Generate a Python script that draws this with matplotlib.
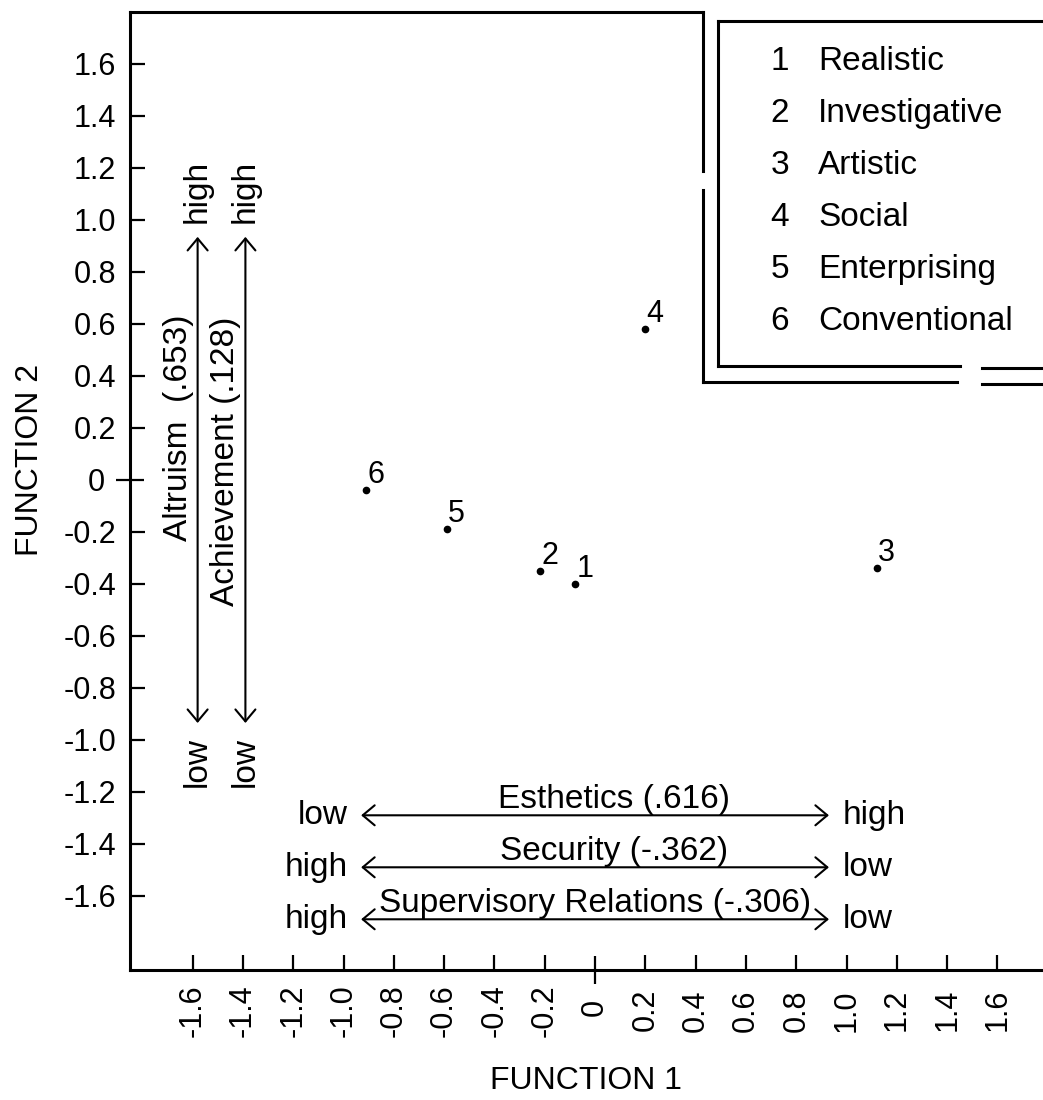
import matplotlib
matplotlib.use('Agg')
import matplotlib.pyplot as plt

plt.rcParams['font.family'] = ['Liberation Sans', 'DejaVu Sans']

# group centroids on the two discriminant functions
groups = ['Realistic', 'Investigative', 'Artistic', 'Social', 'Enterprising', 'Conventional']
function1 = [-0.08, -0.22, 1.12, 0.20, -0.59, -0.91]
function2 = [-0.40, -0.35, -0.34, 0.58, -0.19, -0.04]

tick_values = [-1.6, -1.4, -1.2, -1.0, -0.8, -0.6, -0.4, -0.2, 0,
               0.2, 0.4, 0.6, 0.8, 1.0, 1.2, 1.4, 1.6]
tick_labels = ['-1.6', '-1.4', '-1.2', '-1.0', '-0.8', '-0.6', '-0.4', '-0.2', '0',
               '0.2', '0.4', '0.6', '0.8', '1.0', '1.2', '1.4', '1.6']

# value scales drawn as arrows
vert_scales = ['Altruism  (.653)', 'Achievement (.128)']
vert_x = [-1.58, -1.39]
vert_text_y = [0.20, 0.07]
horiz_scales = ['Esthetics (.616)', 'Security (-.362)', 'Supervisory Relations (-.306)']
horiz_y = [-1.29, -1.49, -1.69]
horiz_left = ['low', 'high', 'high']
horiz_right = ['high', 'low', 'low']
horiz_text_x = [0.075, 0.075, 0.0]

fig = plt.figure(figsize=(10.43, 11), dpi=100)
ax = fig.add_axes([0.1246, 0.1182, 0.8754, 0.8709])
ax.set_xlim(-1.849, 1.781)
ax.set_ylim(-1.885, 1.80)

for s in ['right']:
    ax.spines[s].set_visible(False)
for s in ['left', 'bottom', 'top']:
    ax.spines[s].set_linewidth(2.2)
ax.spines['top'].set_bounds(-1.849, 0.43)

# major ticks everywhere except zero, zero gets a crossing tick
major = [(v, l) for v, l in zip(tick_values, tick_labels) if v != 0]
zero = [(v, l) for v, l in zip(tick_values, tick_labels) if v == 0]
ax.set_xticks([v for v, _ in major])
ax.set_xticklabels([l for _, l in major], rotation=90, va='center')
ax.set_yticks([v for v, _ in major])
ax.set_yticklabels([l for _, l in major])
ax.set_xticks([v for v, _ in zero], minor=True)
ax.set_xticklabels([l for _, l in zero], minor=True, rotation=90, va='center')
ax.set_yticks([v for v, _ in zero], minor=True)
ax.set_yticklabels([l for _, l in zero], minor=True)

ax.tick_params(which='major', direction='in', length=11, width=1.6, labelsize=22)
ax.tick_params(axis='x', which='major', pad=29)
ax.tick_params(axis='y', which='major', pad=10)
ax.tick_params(which='minor', direction='inout', length=20, width=1.6, labelsize=22)
ax.tick_params(axis='x', which='minor', pad=17)
ax.tick_params(axis='y', which='minor', pad=8)

# centroids
ax.plot(function1, function2, 'o', color='black', markersize=4.5, linestyle='none')
for i, (x, y) in enumerate(zip(function1, function2)):
    ax.annotate(str(i + 1), (x, y), xytext=(1, 5), textcoords='offset points',
                ha='left', va='baseline', fontsize=22)

# legend box with double border
lw = 2.2
ax.plot([0.43, 0.43], [1.80, 1.19], color='black', lw=lw, clip_on=False)
ax.plot([0.43, 0.43], [1.115, 0.377], color='black', lw=lw, clip_on=False)
ax.plot([0.43, 1.44], [0.377, 0.377], color='black', lw=lw, clip_on=False)
ax.plot([1.54, 1.781], [0.37, 0.37], color='black', lw=lw, clip_on=False)
ax.plot([0.49, 0.49], [1.765, 0.44], color='black', lw=lw, clip_on=False)
ax.plot([0.49, 1.781], [1.765, 1.765], color='black', lw=lw, clip_on=False)
ax.plot([0.49, 1.45], [0.44, 0.44], color='black', lw=lw, clip_on=False)
ax.plot([1.54, 1.781], [0.43, 0.43], color='black', lw=lw, clip_on=False)

for i, name in enumerate(groups):
    y = 1.61 - 0.2 * i
    ax.text(0.735, y, str(i + 1), ha='center', va='center', fontsize=24)
    ax.text(0.887, y, name, ha='left', va='center', fontsize=24)

arrow = dict(arrowstyle='<->,head_length=0.43,head_width=0.36', lw=1.5,
             color='black', shrinkA=0, shrinkB=0, mutation_scale=20)

for name, x, ty in zip(vert_scales, vert_x, vert_text_y):
    ax.annotate('', xy=(x, 0.935), xytext=(x, -0.935), arrowprops=arrow)
    ax.text(x, 0.99, 'high', rotation=90, ha='center', va='bottom', fontsize=24)
    ax.text(x, -0.99, 'low', rotation=90, ha='center', va='top', fontsize=24)
    ax.text(x - 0.016, ty, name, rotation=90, ha='right', va='center', fontsize=24)

for name, y, lo, hi, tx in zip(horiz_scales, horiz_y, horiz_left, horiz_right, horiz_text_x):
    ax.annotate('', xy=(0.93, y), xytext=(-0.93, y), arrowprops=arrow)
    ax.text(-0.985, y, lo, ha='right', va='center', fontsize=24)
    ax.text(0.985, y, hi, ha='left', va='center', fontsize=24)
    ax.text(tx, y + 0.027, name, ha='center', va='baseline', fontsize=24)

fig.text(0.029, 0.582, 'FUNCTION 2', rotation=90, ha='center', va='center', fontsize=23)
fig.text(0.562, 0.017, 'FUNCTION 1', ha='center', va='center', fontsize=23)

fig.savefig('out.png', dpi=100)
